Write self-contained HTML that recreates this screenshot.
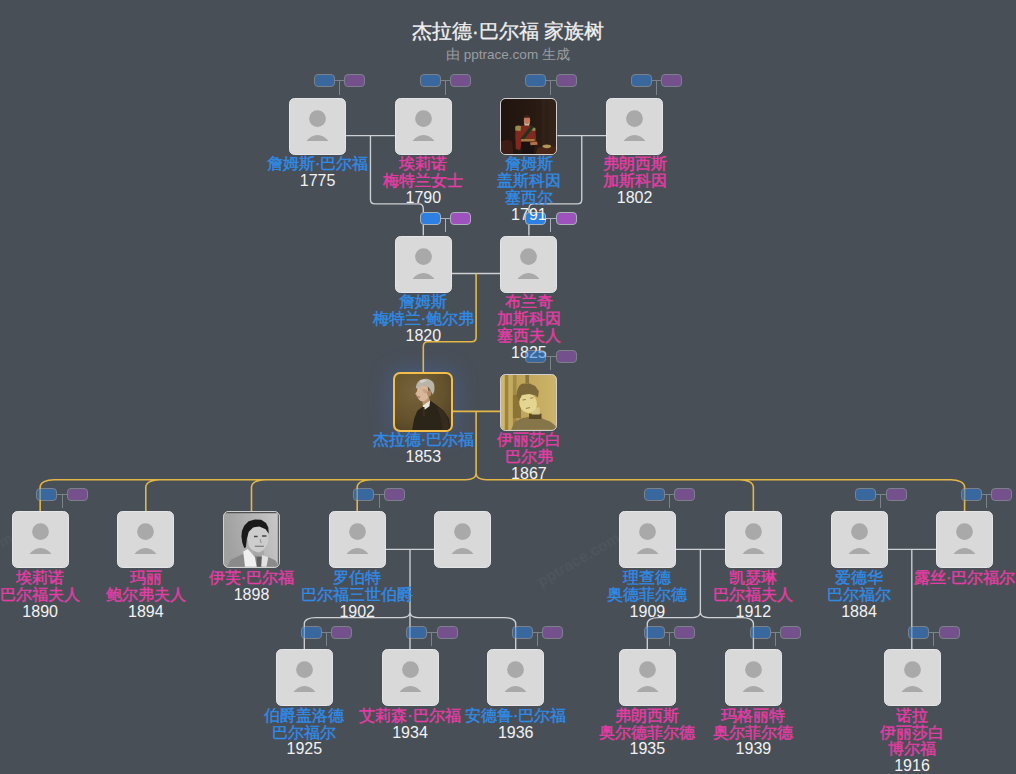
<!DOCTYPE html><html><head><meta charset="utf-8"><style>
html,body{margin:0;padding:0;}
body{width:1016px;height:774px;overflow:hidden;background:#494f57;position:relative;font-family:"Liberation Sans",sans-serif;}
.t{position:absolute;left:0;width:1016px;text-align:center;white-space:nowrap}
.box{position:absolute;width:57px;height:57px;border-radius:5.5px;background:#d9d9d9;overflow:hidden;box-sizing:border-box;border:1px solid #e3e5e7}
.pi{position:absolute;left:-1px;top:-1px}
.ph{border:1.5px solid #d0d0d0;}
.gold{border:2.5px solid #f3bf4a;}
.nm{position:absolute;width:200px;text-align:center;font-size:16px;line-height:16.8px;white-space:nowrap}
.nm .c{-webkit-text-stroke:0.4px currentColor}
.nm .y{color:#f2f2f2}
.bg{position:absolute;width:52px;height:13px}
.bb,.bp{position:absolute;top:0;width:19px;height:11px;border:1px solid #a8b0b9;border-radius:4px}
.bb{left:0;background:#2b80e2}
.bp{left:30.6px;background:#9d52be}
.bc{position:absolute;left:20.8px;top:6px;width:10px;height:1px;background:#a9b3bd}
.bv{position:absolute;left:25.3px;top:6px;width:1px;height:14.5px;background:#a9b3bd}
svg.lines{position:absolute;left:0;top:0}
.wm{position:absolute;font-size:15.5px;color:rgba(255,255,255,0.055);-webkit-text-stroke:0.3px rgba(255,255,255,0.055);transform:rotate(-30deg);font-weight:bold;transform-origin:0 0;white-space:nowrap}
</style></head><body>
<div class="t" style="top:19px;font-size:20px;line-height:24px;color:#f0f0f0;-webkit-text-stroke:0.3px #f0f0f0">杰拉德·巴尔福 家族树</div>
<div class="t" style="top:46.8px;font-size:13.5px;line-height:16px;color:#9b9da0">由 pptrace.com 生成</div>
<div class="wm" style="left:534px;top:575px">pptrace.com</div>
<div class="wm" style="left:-73px;top:575px">pptrace.com</div>

<div style="position:absolute;left:394.80px;top:373.50px;width:57px;height:57px;border-radius:8px;box-shadow:0 0 22px 5px rgba(65,120,215,0.30)"></div>
<svg class="lines" width="1016" height="774"><path d="M346.10,135.60H394.80M557.40,135.60H606.10M451.80,273.50H500.40M385.70,549.30H434.30M675.90,549.30H724.85M887.50,549.30H936.10M370.45,135.60V199.40Q370.45,203.90 374.95,203.90H418.80Q423.30,203.90 423.30,208.90V235.60M581.75,135.60V199.40Q581.75,203.90 577.25,203.90H533.40Q528.90,203.90 528.90,208.90V235.60M410.00,549.30V612.00C410.00,615.64 406.40,617.60 402.00,617.60H315.30C309.25,617.60 304.30,619.70 304.30,623.60V649.30M410.00,549.30V649.30M410.00,549.30V612.00C410.00,615.64 413.60,617.60 418.00,617.60H504.70C510.75,617.60 515.70,619.70 515.70,623.60V649.30M700.38,549.30V612.00C700.38,615.64 696.77,617.60 692.38,617.60H658.30C652.25,617.60 647.30,619.70 647.30,623.60V649.30M700.38,549.30V612.00C700.38,615.64 703.98,617.60 708.38,617.60H742.40C748.45,617.60 753.40,619.70 753.40,623.60V649.30M911.80,549.30V649.30" fill="none" stroke="#cdd0d4" stroke-width="1.35"/><path d="M451.80,411.40H500.40M476.10,273.50V337.30Q476.10,341.80 471.60,341.80H427.80Q423.30,341.80 423.30,346.80V373.50M476.10,411.40V473.20C476.10,477.43 471.60,479.70 466.10,479.70H54.15C46.45,479.70 40.15,482.33 40.15,487.20V511.40M476.10,411.40V473.20C476.10,477.43 471.60,479.70 466.10,479.70H159.80C152.10,479.70 145.80,482.33 145.80,487.20V511.40M476.10,411.40V473.20C476.10,477.43 471.60,479.70 466.10,479.70H265.50C257.80,479.70 251.50,482.33 251.50,487.20V511.40M476.10,411.40V473.20C476.10,477.43 471.60,479.70 466.10,479.70H371.20C363.50,479.70 357.20,482.33 357.20,487.20V511.40M476.10,411.40V473.20C476.10,477.43 480.60,479.70 486.10,479.70H739.35C747.05,479.70 753.35,482.33 753.35,487.20V511.40M476.10,411.40V473.20C476.10,477.43 480.60,479.70 486.10,479.70H950.60C958.30,479.70 964.60,482.33 964.60,487.20V511.40" fill="none" stroke="#e3b746" stroke-width="1.6"/></svg>
<div class="bg" style="left:419.50px;top:211.90px;opacity:1"><div class="bb"></div><div class="bc"></div><div class="bv"></div><div class="bp"></div></div>
<div class="bg" style="left:525.10px;top:211.90px;opacity:1"><div class="bb"></div><div class="bc"></div><div class="bv"></div><div class="bp"></div></div>
<div class="box" style="left:289.10px;top:97.70px"><svg class="pi" width="57" height="57" viewBox="0 0 57 57"><circle cx="28.5" cy="20.6" r="8.4" fill="#a9a9a9"/><path d="M17.5,43.1 A13.1,13.1 0 0 1 39.5,43.1 Z" fill="#a9a9a9"/></svg></div>
<div class="nm" style="left:217.60px;top:156.30px"><div class="c" style="color:#2f8be8">詹姆斯·巴尔福</div><div class="y">1775</div></div>
<div class="box" style="left:394.80px;top:97.70px"><svg class="pi" width="57" height="57" viewBox="0 0 57 57"><circle cx="28.5" cy="20.6" r="8.4" fill="#a9a9a9"/><path d="M17.5,43.1 A13.1,13.1 0 0 1 39.5,43.1 Z" fill="#a9a9a9"/></svg></div>
<div class="nm" style="left:323.30px;top:156.30px"><div class="c" style="color:#e63ca6">埃莉诺</div><div class="c" style="color:#e63ca6">梅特兰女士</div><div class="y">1790</div></div>
<div class="box ph" style="left:500.40px;top:97.70px"><svg width="100%" height="100%" viewBox="0 0 54 54" preserveAspectRatio="none">
<defs><linearGradient id="cg" x1="0" y1="0" x2="1" y2="0"><stop offset="0" stop-color="#201410"/><stop offset="0.6" stop-color="#281a12"/><stop offset="1" stop-color="#342418"/></linearGradient></defs>
<rect width="54" height="54" fill="url(#cg)"/>
<rect x="40" y="0" width="3" height="54" fill="#30221a"/>
<path d="M0,42 Q6,38 11,42 L12,54 L0,54 Z" fill="#3e1e14"/>
<path d="M36,48 Q44,45 54,47 L54,54 L34,54 Z" fill="#4a2616"/>
<ellipse cx="45" cy="46.5" rx="4.2" ry="1.8" fill="#b09658"/>
<path d="M14.5,27.9 L19.7,26.2 L26.8,25.3 L32,27.9 L33.8,31.4 L34.7,42 L32,45.5 L19.7,45.5 L18.9,50 L14.5,49 L14,36 Z" fill="#82291f"/>
<path d="M14,27 Q16,25.5 19.7,26.5 L19.2,31.4 L14,31 Z" fill="#9a8a52"/>
<path d="M30.3,27.9 Q33,27.5 33.8,29 L33.8,31.4 L30.3,31 Z" fill="#9a8a52"/>
<path d="M29.5,25.8 L32.5,27.5 L21.5,41 L18.8,39.5 Z" fill="#1e3420"/>
<rect x="19.7" y="39.3" width="13.3" height="2.4" fill="#a07a40"/>
<path d="M19.7,42 L33,42 L32,53.6 L20.5,53.6 Z" fill="#1a1210"/>
<path d="M28.5,42.5 L35.5,42 L36,45 L29,45.5 Z" fill="#b0704a"/>
<ellipse cx="25.5" cy="20.8" rx="3.1" ry="4.4" fill="#c07a58"/>
<path d="M22.4,17 Q25.5,15 28.6,17 L28.2,18.5 L22.8,18.5 Z" fill="#3a2418"/>
<path d="M22.5,22.5 Q25.5,27 28.3,22.5 L27.6,26 L23.2,26 Z" fill="#cfc2a8"/>
</svg></div>
<div class="nm" style="left:428.90px;top:156.30px"><div class="c" style="color:#2f8be8">詹姆斯</div><div class="c" style="color:#2f8be8">盖斯科因</div><div class="c" style="color:#2f8be8">塞西尔</div><div class="y">1791</div></div>
<div class="box" style="left:606.10px;top:97.70px"><svg class="pi" width="57" height="57" viewBox="0 0 57 57"><circle cx="28.5" cy="20.6" r="8.4" fill="#a9a9a9"/><path d="M17.5,43.1 A13.1,13.1 0 0 1 39.5,43.1 Z" fill="#a9a9a9"/></svg></div>
<div class="nm" style="left:534.60px;top:156.30px"><div class="c" style="color:#e63ca6">弗朗西斯</div><div class="c" style="color:#e63ca6">加斯科因</div><div class="y">1802</div></div>
<div class="box" style="left:394.80px;top:235.60px"><svg class="pi" width="57" height="57" viewBox="0 0 57 57"><circle cx="28.5" cy="20.6" r="8.4" fill="#a9a9a9"/><path d="M17.5,43.1 A13.1,13.1 0 0 1 39.5,43.1 Z" fill="#a9a9a9"/></svg></div>
<div class="nm" style="left:323.30px;top:294.20px"><div class="c" style="color:#2f8be8">詹姆斯</div><div class="c" style="color:#2f8be8">梅特兰·鲍尔弗</div><div class="y">1820</div></div>
<div class="box" style="left:500.40px;top:235.60px"><svg class="pi" width="57" height="57" viewBox="0 0 57 57"><circle cx="28.5" cy="20.6" r="8.4" fill="#a9a9a9"/><path d="M17.5,43.1 A13.1,13.1 0 0 1 39.5,43.1 Z" fill="#a9a9a9"/></svg></div>
<div class="nm" style="left:428.90px;top:294.20px"><div class="c" style="color:#e63ca6">布兰奇</div><div class="c" style="color:#e63ca6">加斯科因</div><div class="c" style="color:#e63ca6">塞西夫人</div><div class="y">1825</div></div>
<div class="box gold" style="left:393.30px;top:372.00px;width:60px;height:60px;border-radius:7px"><svg width="100%" height="100%" viewBox="0 0 54 54" preserveAspectRatio="none">
<defs><radialGradient id="gg" cx="0.35" cy="0.3" r="0.9"><stop offset="0" stop-color="#76633a"/><stop offset="0.6" stop-color="#64522c"/><stop offset="1" stop-color="#4e3f22"/></radialGradient></defs>
<rect width="54" height="54" fill="url(#gg)"/>
<path d="M16.5,54 L18.5,43 L21.5,35.5 L26,32 L34,25.5 L40,30 L47,35.5 L52,43 L54,54 Z" fill="#2b2419"/>
<path d="M40,31 L47,36 L51,44 L53,54 L46,54 L44,42 Z" fill="#352c1e"/>
<path d="M25.5,22.5 L32.5,21.5 L34,27 L27,30.5 Z" fill="#b89474"/>
<path d="M26.5,30.5 L33.8,25.8 L33.2,31 L28.5,34.5 Z" fill="#ebe6dc"/>
<path d="M26.6,31.8 L28.4,31.8 L29,41 L26.8,41 Z" fill="#3a2e1e"/>
<path d="M22,11.5 Q26.5,9.5 31.5,11.5 L32.4,21.5 Q30.5,27 25,26.2 L23.6,25 Q22,23.6 21.8,22.2 L20.6,21.4 L21,20.2 L19.4,19.2 L21.2,16.6 Z" fill="#d8b69a"/>
<path d="M20.8,21.4 L24.4,21.6 L23.8,22.9 L21.4,22.6 Z" fill="#a8735a"/>
<path d="M26,15 Q29,14 31,15.5 L31.5,19 L28,18 Z" fill="#c8a286"/>
<ellipse cx="33" cy="18.6" rx="2" ry="3" fill="#b0886a"/>
<path d="M20,13 Q21,6 27,4.8 Q31,3.8 34,5.8 Q38.5,8 38,13 Q38.5,17 36.5,20 L34.6,16.5 Q33,11.5 28.5,11 Q23.5,10.8 21.5,14.5 Z" fill="#b9b5aa"/>
<path d="M24,6.5 Q28,5 31,6.5 Q27,7.5 25,9 Z" fill="#d8d4cc"/>
</svg></div>
<div class="nm" style="left:323.30px;top:432.10px"><div class="c" style="color:#2f8be8">杰拉德·巴尔福</div><div class="y">1853</div></div>
<div class="box ph" style="left:500.40px;top:373.50px"><svg width="100%" height="100%" viewBox="0 0 54 54" preserveAspectRatio="none">
<defs><linearGradient id="hg" x1="0" y1="0" x2="1" y2="0"><stop offset="0" stop-color="#b89e54"/><stop offset="0.5" stop-color="#c2a85c"/><stop offset="1" stop-color="#ccb46a"/></linearGradient></defs>
<rect width="54" height="54" fill="url(#hg)"/>
<rect x="0" y="0" width="3.8" height="54" fill="#d0b868"/>
<rect x="3.8" y="0" width="3.5" height="54" fill="#9c8440"/>
<rect x="7.3" y="0" width="4.4" height="54" fill="#c4ac60"/>
<rect x="11.7" y="0" width="3.5" height="54" fill="#a08a48"/>
<rect x="24" y="0" width="3.5" height="8" fill="#8a7440"/>
<path d="M11.7,19.6 L19.6,19.6 L19.6,42.4 L11.7,42.4 Z" fill="#8c7436"/>
<path d="M10,53.8 L13.4,45.9 L20.5,42.4 L29.3,40.7 L39.8,42.4 L48.6,45.9 L53.9,50.3 L54.7,53.8 Z" fill="#857548"/>
<path d="M27.5,38 L39.8,38 L39.8,43.3 L27.5,43.3 Z" fill="#5a4a28"/>
<path d="M30.1,31.9 L38,31.9 L38,38.9 L30.1,38.9 Z" fill="#d6c686"/>
<ellipse cx="26.6" cy="27.8" rx="8.6" ry="9.6" fill="#e4d690" transform="rotate(-15 26.6 27.8)"/>
<path d="M20.5,8.6 L27.5,8.1 L33.6,10.8 L37.2,16 L36.3,22.2 L32.8,19.6 L27.5,18.7 L20.5,19.6 L17,24.8 L15.2,19.6 Q16,11 20.5,8.6 Z" fill="#7a6838"/>
<path d="M21,24.5 L24.5,24 M28.5,22.8 L31.8,22.3" stroke="#9a8650" stroke-width="1.1"/>
<path d="M24.5,32.8 L28.5,32" stroke="#a08250" stroke-width="1"/>
</svg></div>
<div class="nm" style="left:428.90px;top:432.10px"><div class="c" style="color:#e63ca6">伊丽莎白</div><div class="c" style="color:#e63ca6">巴尔弗</div><div class="y">1867</div></div>
<div class="box" style="left:11.65px;top:511.40px"><svg class="pi" width="57" height="57" viewBox="0 0 57 57"><circle cx="28.5" cy="20.6" r="8.4" fill="#a9a9a9"/><path d="M17.5,43.1 A13.1,13.1 0 0 1 39.5,43.1 Z" fill="#a9a9a9"/></svg></div>
<div class="nm" style="left:-59.85px;top:570.00px"><div class="c" style="color:#e63ca6">埃莉诺</div><div class="c" style="color:#e63ca6">巴尔福夫人</div><div class="y">1890</div></div>
<div class="box" style="left:117.30px;top:511.40px"><svg class="pi" width="57" height="57" viewBox="0 0 57 57"><circle cx="28.5" cy="20.6" r="8.4" fill="#a9a9a9"/><path d="M17.5,43.1 A13.1,13.1 0 0 1 39.5,43.1 Z" fill="#a9a9a9"/></svg></div>
<div class="nm" style="left:45.80px;top:570.00px"><div class="c" style="color:#e63ca6">玛丽</div><div class="c" style="color:#e63ca6">鲍尔弗夫人</div><div class="y">1894</div></div>
<div class="box ph" style="left:223.00px;top:511.40px"><svg width="100%" height="100%" viewBox="0 0 54 54" preserveAspectRatio="none">
<defs><linearGradient id="eg" x1="0" y1="0.2" x2="1" y2="0"><stop offset="0" stop-color="#a0a0a0"/><stop offset="0.5" stop-color="#b4b4b4"/><stop offset="1" stop-color="#cacaca"/></linearGradient></defs>
<rect width="54" height="54" fill="url(#eg)"/>
<rect x="0" y="0" width="54" height="1.2" fill="#505050"/>
<rect x="52.8" y="0" width="1.2" height="54" fill="#606060"/>
<path d="M3.1,53.8 L6.6,46.8 L18,41.5 L30,42 L43.5,44.2 L50.5,47.7 L54,53.8 Z" fill="#8a8a8a"/>
<path d="M28.5,38 L39.1,38 L39.1,43 L28.5,43 Z" fill="#a8a8a8"/>
<path d="M32.1,44.2 L37.3,44.2 L37.3,53.8 L32.1,53.8 Z" fill="#5e5e5e"/>
<path d="M24.2,19.6 Q26,14.5 33,14 Q42,14 43.5,21 L43.8,27 Q42.5,36 34.7,39.8 Q27,39 24.2,32.7 L23.2,26 Z" fill="#cdcdcd"/>
<path d="M18.9,38.9 L23.3,36.3 L30.3,44.2 L32.1,53.8 L20.6,53.8 Z" fill="#f0f0f0"/>
<path d="M37.3,42.4 L43.5,44.2 L41.7,53.8 L36.5,53.8 Z" fill="#e2e2e2"/>
<path d="M17.1,24 L17.6,18.7 L19.8,13.4 L24.2,9 L30.3,7.3 L36.5,7.7 L41.3,10.8 L43.5,15.2 L43.9,21.3 L40.9,16.9 L34.7,14.3 L28.5,15.2 L24.2,19.6 L22.4,26.6 L21.5,34.5 L19.8,35.4 L18,30.1 Z" fill="#1a1a1a"/>
<path d="M29.4,24 L33,24 M37.3,23.5 L41.7,23.5" stroke="#454545" stroke-width="1.4"/>
<path d="M35.5,26.6 L36.5,30.5" stroke="#9a9a9a" stroke-width="1.2"/>
<path d="M30.3,33.6 L39.1,33.6" stroke="#6a6a6a" stroke-width="1.1"/>
</svg></div>
<div class="nm" style="left:151.50px;top:570.00px"><div class="c" style="color:#e63ca6">伊芙·巴尔福</div><div class="y">1898</div></div>
<div class="box" style="left:328.70px;top:511.40px"><svg class="pi" width="57" height="57" viewBox="0 0 57 57"><circle cx="28.5" cy="20.6" r="8.4" fill="#a9a9a9"/><path d="M17.5,43.1 A13.1,13.1 0 0 1 39.5,43.1 Z" fill="#a9a9a9"/></svg></div>
<div class="nm" style="left:257.20px;top:570.00px"><div class="c" style="color:#2f8be8">罗伯特</div><div class="c" style="color:#2f8be8">巴尔福三世伯爵</div><div class="y">1902</div></div>
<div class="box" style="left:434.30px;top:511.40px"><svg class="pi" width="57" height="57" viewBox="0 0 57 57"><circle cx="28.5" cy="20.6" r="8.4" fill="#a9a9a9"/><path d="M17.5,43.1 A13.1,13.1 0 0 1 39.5,43.1 Z" fill="#a9a9a9"/></svg></div>
<div class="box" style="left:618.90px;top:511.40px"><svg class="pi" width="57" height="57" viewBox="0 0 57 57"><circle cx="28.5" cy="20.6" r="8.4" fill="#a9a9a9"/><path d="M17.5,43.1 A13.1,13.1 0 0 1 39.5,43.1 Z" fill="#a9a9a9"/></svg></div>
<div class="nm" style="left:547.40px;top:570.00px"><div class="c" style="color:#2f8be8">理查德</div><div class="c" style="color:#2f8be8">奥德菲尔德</div><div class="y">1909</div></div>
<div class="box" style="left:724.85px;top:511.40px"><svg class="pi" width="57" height="57" viewBox="0 0 57 57"><circle cx="28.5" cy="20.6" r="8.4" fill="#a9a9a9"/><path d="M17.5,43.1 A13.1,13.1 0 0 1 39.5,43.1 Z" fill="#a9a9a9"/></svg></div>
<div class="nm" style="left:653.35px;top:570.00px"><div class="c" style="color:#e63ca6">凯瑟琳</div><div class="c" style="color:#e63ca6">巴尔福夫人</div><div class="y">1912</div></div>
<div class="box" style="left:830.50px;top:511.40px"><svg class="pi" width="57" height="57" viewBox="0 0 57 57"><circle cx="28.5" cy="20.6" r="8.4" fill="#a9a9a9"/><path d="M17.5,43.1 A13.1,13.1 0 0 1 39.5,43.1 Z" fill="#a9a9a9"/></svg></div>
<div class="nm" style="left:759.00px;top:570.00px"><div class="c" style="color:#2f8be8">爱德华</div><div class="c" style="color:#2f8be8">巴尔福尔</div><div class="y">1884</div></div>
<div class="box" style="left:936.10px;top:511.40px"><svg class="pi" width="57" height="57" viewBox="0 0 57 57"><circle cx="28.5" cy="20.6" r="8.4" fill="#a9a9a9"/><path d="M17.5,43.1 A13.1,13.1 0 0 1 39.5,43.1 Z" fill="#a9a9a9"/></svg></div>
<div class="nm" style="left:864.60px;top:570.00px"><div class="c" style="color:#e63ca6">露丝·巴尔福尔</div></div>
<div class="box" style="left:275.80px;top:649.30px"><svg class="pi" width="57" height="57" viewBox="0 0 57 57"><circle cx="28.5" cy="20.6" r="8.4" fill="#a9a9a9"/><path d="M17.5,43.1 A13.1,13.1 0 0 1 39.5,43.1 Z" fill="#a9a9a9"/></svg></div>
<div class="nm" style="left:204.30px;top:707.90px"><div class="c" style="color:#2f8be8">伯爵盖洛德</div><div class="c" style="color:#2f8be8">巴尔福尔</div><div class="y">1925</div></div>
<div class="box" style="left:381.50px;top:649.30px"><svg class="pi" width="57" height="57" viewBox="0 0 57 57"><circle cx="28.5" cy="20.6" r="8.4" fill="#a9a9a9"/><path d="M17.5,43.1 A13.1,13.1 0 0 1 39.5,43.1 Z" fill="#a9a9a9"/></svg></div>
<div class="nm" style="left:310.00px;top:707.90px"><div class="c" style="color:#e63ca6">艾莉森·巴尔福</div><div class="y">1934</div></div>
<div class="box" style="left:487.20px;top:649.30px"><svg class="pi" width="57" height="57" viewBox="0 0 57 57"><circle cx="28.5" cy="20.6" r="8.4" fill="#a9a9a9"/><path d="M17.5,43.1 A13.1,13.1 0 0 1 39.5,43.1 Z" fill="#a9a9a9"/></svg></div>
<div class="nm" style="left:415.70px;top:707.90px"><div class="c" style="color:#2f8be8">安德鲁·巴尔福</div><div class="y">1936</div></div>
<div class="box" style="left:618.80px;top:649.30px"><svg class="pi" width="57" height="57" viewBox="0 0 57 57"><circle cx="28.5" cy="20.6" r="8.4" fill="#a9a9a9"/><path d="M17.5,43.1 A13.1,13.1 0 0 1 39.5,43.1 Z" fill="#a9a9a9"/></svg></div>
<div class="nm" style="left:547.30px;top:707.90px"><div class="c" style="color:#e63ca6">弗朗西斯</div><div class="c" style="color:#e63ca6">奥尔德菲尔德</div><div class="y">1935</div></div>
<div class="box" style="left:724.90px;top:649.30px"><svg class="pi" width="57" height="57" viewBox="0 0 57 57"><circle cx="28.5" cy="20.6" r="8.4" fill="#a9a9a9"/><path d="M17.5,43.1 A13.1,13.1 0 0 1 39.5,43.1 Z" fill="#a9a9a9"/></svg></div>
<div class="nm" style="left:653.40px;top:707.90px"><div class="c" style="color:#e63ca6">玛格丽特</div><div class="c" style="color:#e63ca6">奥尔菲尔德</div><div class="y">1939</div></div>
<div class="box" style="left:883.50px;top:649.30px"><svg class="pi" width="57" height="57" viewBox="0 0 57 57"><circle cx="28.5" cy="20.6" r="8.4" fill="#a9a9a9"/><path d="M17.5,43.1 A13.1,13.1 0 0 1 39.5,43.1 Z" fill="#a9a9a9"/></svg></div>
<div class="nm" style="left:812.00px;top:707.90px"><div class="c" style="color:#e63ca6">诺拉</div><div class="c" style="color:#e63ca6">伊丽莎白</div><div class="c" style="color:#e63ca6">博尔福</div><div class="y">1916</div></div>
<div class="bg" style="left:313.80px;top:74.00px;opacity:0.52"><div class="bb"></div><div class="bc"></div><div class="bv"></div><div class="bp"></div></div>
<div class="bg" style="left:419.50px;top:74.00px;opacity:0.52"><div class="bb"></div><div class="bc"></div><div class="bv"></div><div class="bp"></div></div>
<div class="bg" style="left:525.10px;top:74.00px;opacity:0.52"><div class="bb"></div><div class="bc"></div><div class="bv"></div><div class="bp"></div></div>
<div class="bg" style="left:630.80px;top:74.00px;opacity:0.52"><div class="bb"></div><div class="bc"></div><div class="bv"></div><div class="bp"></div></div>

<div class="bg" style="left:525.10px;top:349.80px;opacity:0.52"><div class="bb"></div><div class="bc"></div><div class="bv"></div><div class="bp"></div></div>
<div class="bg" style="left:36.35px;top:487.70px;opacity:0.52"><div class="bb"></div><div class="bc"></div><div class="bv"></div><div class="bp"></div></div>


<div class="bg" style="left:353.40px;top:487.70px;opacity:0.52"><div class="bb"></div><div class="bc"></div><div class="bv"></div><div class="bp"></div></div>

<div class="bg" style="left:643.60px;top:487.70px;opacity:0.52"><div class="bb"></div><div class="bc"></div><div class="bv"></div><div class="bp"></div></div>

<div class="bg" style="left:855.20px;top:487.70px;opacity:0.52"><div class="bb"></div><div class="bc"></div><div class="bv"></div><div class="bp"></div></div>
<div class="bg" style="left:960.80px;top:487.70px;opacity:0.52"><div class="bb"></div><div class="bc"></div><div class="bv"></div><div class="bp"></div></div>
<div class="bg" style="left:300.50px;top:625.60px;opacity:0.52"><div class="bb"></div><div class="bc"></div><div class="bv"></div><div class="bp"></div></div>
<div class="bg" style="left:406.20px;top:625.60px;opacity:0.52"><div class="bb"></div><div class="bc"></div><div class="bv"></div><div class="bp"></div></div>
<div class="bg" style="left:511.90px;top:625.60px;opacity:0.52"><div class="bb"></div><div class="bc"></div><div class="bv"></div><div class="bp"></div></div>
<div class="bg" style="left:643.50px;top:625.60px;opacity:0.52"><div class="bb"></div><div class="bc"></div><div class="bv"></div><div class="bp"></div></div>
<div class="bg" style="left:749.60px;top:625.60px;opacity:0.52"><div class="bb"></div><div class="bc"></div><div class="bv"></div><div class="bp"></div></div>
<div class="bg" style="left:908.20px;top:625.60px;opacity:0.52"><div class="bb"></div><div class="bc"></div><div class="bv"></div><div class="bp"></div></div>
</body></html>
